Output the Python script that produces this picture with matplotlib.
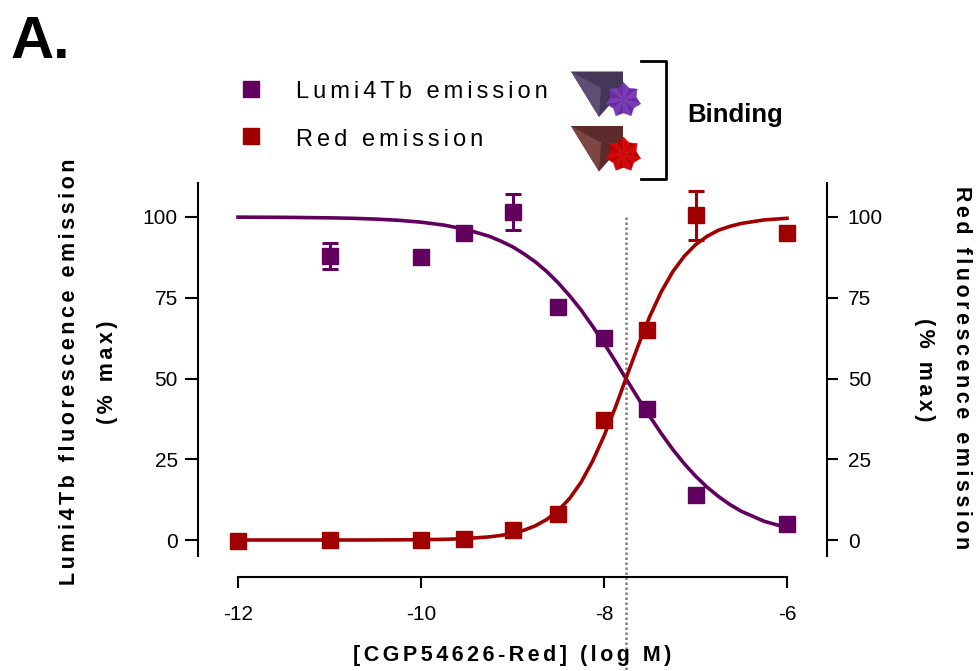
import numpy as np
import matplotlib
matplotlib.use("Agg")
import matplotlib.pyplot as plt
from matplotlib.patches import Polygon

plt.rcParams['font.family'] = ['Liberation Sans', 'DejaVu Sans']

# ---- data ----
purple_x = [-11, -10, -9.53, -9, -8.5, -8, -7.53, -7, -6]
purple_y = [88, 87.5, 95, 101.5, 72, 62.5, 40.5, 14, 5]
purple_err = [4, 0, 0, 5.5, 0, 0, 0, 0, 0]
red_x = [-12, -11, -10, -9.53, -9, -8.5, -8, -7.53, -7, -6]
red_y = [-0.3, 0, 0.1, 0.3, 3, 8, 37, 65, 100.5, 95]
red_err = [0, 0, 0, 0, 0, 0, 0, 0, 7.5, 0]
curve_x = [-12, -11.5, -11, -10.75, -10.5, -10.25, -10, -9.75, -9.5, -9.25, -9.125, -9,
           -8.875, -8.75, -8.625, -8.5, -8.375, -8.25, -8.125, -8, -7.875, -7.75, -7.625,
           -7.5, -7.375, -7.25, -7.125, -7, -6.875, -6.75, -6.625, -6.5, -6.25, -6]
purple_curve = [99.96, 99.9, 99.74, 99.6, 99.36, 98.99, 98.4, 97.5, 96.1, 94.0, 92.5, 90.8,
                88.6, 86.1, 83.1, 79.6, 75.6, 71.2, 66.2, 60.9, 55.3, 49.5, 43.8,
                38.3, 33.0, 28.1, 23.7, 19.8, 16.4, 13.5, 11.0, 8.9, 5.8, 3.8]
red_curve = [0, 0, 0, 0, 0.02, 0.05, 0.1, 0.2, 0.45, 0.98, 1.42, 2.07,
             3.03, 4.4, 6.36, 9.1, 12.9, 17.9, 24.4, 32.2, 41.1, 50.8, 60.3,
             69.2, 76.8, 83.0, 87.8, 91.4, 94.0, 95.9, 97.1, 98.0, 99.1, 99.6]
y_ticks = [0, 25, 50, 75, 100]
x_ticks = [-12, -10, -8, -6]
ec50 = -7.76

PURPLE = '#620060'
RED = '#a00000'
W, H = 976, 671


def sp(s):
    return '\u200a\u200a'.join(s)


fig = plt.figure(figsize=(W / 100, H / 100), dpi=100)
ax = fig.add_axes([198 / W, 1 - 556 / H, (827 - 198) / W, (556 - 183) / H])
ax.set_xlim(-12 - 40 / 91.5, -6 + 40 / 91.5)
ax.set_ylim(-16 / 3.23, 357 / 3.23)
ax.patch.set_alpha(0)

for s in ['top', 'right']:
    ax.spines[s].set_visible(False)
ax.spines['bottom'].set_position(('outward', 15))
ax.spines['bottom'].set_bounds(-12, -6)
for s in ['left', 'bottom']:
    ax.spines[s].set_linewidth(1.5)

ax.set_xticks(x_ticks)
ax.set_xticklabels([str(v) for v in x_ticks])
ax.set_yticks(y_ticks)
ax.tick_params(axis='both', width=1.5, labelsize=15)
ax.tick_params(axis='x', length=8, pad=12)
ax.tick_params(axis='y', length=9.5, pad=5)

axr = ax.twinx()
axr.set_ylim(ax.get_ylim())
axr.set_yticks(y_ticks)
axr.tick_params(axis='y', width=1.5, length=8, labelsize=15, pad=7)
for s in ['top', 'left', 'bottom']:
    axr.spines[s].set_visible(False)
axr.spines['right'].set_linewidth(1.5)

ax.plot([ec50, ec50], [100, -40.5], color='#808080', lw=1.8, ls=(0, (1, 1)),
        clip_on=False, zorder=1)
ax.plot(curve_x, purple_curve, color=PURPLE, lw=2.6, zorder=3, solid_joinstyle='round')
ax.plot(curve_x, red_curve, color=RED, lw=2.6, zorder=4, solid_joinstyle='round')
ax.errorbar(purple_x, purple_y, yerr=purple_err, fmt='s', color=PURPLE, ms=12,
            elinewidth=2.2, capsize=5.5, capthick=2.2, zorder=5, clip_on=False)
ax.errorbar(red_x, red_y, yerr=red_err, fmt='s', color=RED, ms=12,
            elinewidth=2.2, capsize=5.5, capthick=2.2, zorder=6, clip_on=False)

# axis titles
fig.text(512 / W, 1 - 655 / H, sp('[CGP54626-Red] (log M)'), ha='center', va='center',
         fontsize=15.5, fontweight='bold')
fig.text(70 / W, 1 - 372 / H, sp('Lumi4Tb fluorescence emission'), rotation=90,
         ha='center', va='center', fontsize=15.5, fontweight='bold')
fig.text(108 / W, 1 - 372 / H, sp('(% max)'), rotation=90, ha='center', va='center',
         fontsize=15.5, fontweight='bold')
fig.text(962 / W, 1 - 368 / H, sp('Red fluorescence emission'), rotation=-90,
         ha='center', va='center', fontsize=15.5, fontweight='bold')
fig.text(925 / W, 1 - 370 / H, sp('(% max)'), rotation=-90, ha='center', va='center',
         fontsize=15.5, fontweight='bold')

# overlay in pixel coordinates for the panel letter, legend and icons
ov = fig.add_axes([0, 0, 1, 1], zorder=10)
ov.set_xlim(0, W)
ov.set_ylim(H, 0)
ov.axis('off')

ov.text(11, 58, 'A.', fontsize=43, fontweight='bold', ha='left', va='baseline')
ov.text(687, 115, 'Binding', fontsize=18.5, fontweight='bold', ha='left', va='center')
ov.plot([641, 666, 666, 641], [60.5, 60.5, 178.5, 178.5], color='black', lw=2,
        solid_joinstyle='round')

for y, c, label in zip([89, 136], [PURPLE, RED], ['Lumi4Tb emission', 'Red emission']):
    ov.plot([251], [y], ls='none', marker='s', ms=12, color=c)
    ov.text(296, y + 3.5, sp(label), fontsize=17, ha='left', va='center')


def icon(dy, base, light, star_l, star_d):
    ov.add_patch(Polygon([(571, 71.5 + dy), (623, 71.5 + dy), (623, 90 + dy), (599, 117 + dy)],
                         closed=True, fc=base, ec='none'))
    ov.add_patch(Polygon([(571, 71.5 + dy), (601, 88 + dy), (599, 117 + dy)], closed=True,
                         fc=light, ec='none'))
    cx, cy = 623.5, 100 + dy
    n = 7
    pts = []
    for i in range(2 * n):
        a = -np.pi / 2 + i * np.pi / n
        r = 17.5 if i % 2 == 0 else 13
        pts.append((cx + r * np.cos(a), cy + r * np.sin(a)))
    for i in range(2 * n):
        c = star_l if i % 2 == 0 else star_d
        ov.add_patch(Polygon([(cx, cy), pts[i], pts[(i + 1) % (2 * n)]], closed=True,
                             fc=c, ec=c, lw=0.3))


icon(0, '#463658', '#5e4e74', '#7a3cb4', '#6a2ca4')
icon(54.5, '#5c2a2a', '#7c4644', '#d40808', '#c00000')

fig.savefig('out.png', dpi=100)
